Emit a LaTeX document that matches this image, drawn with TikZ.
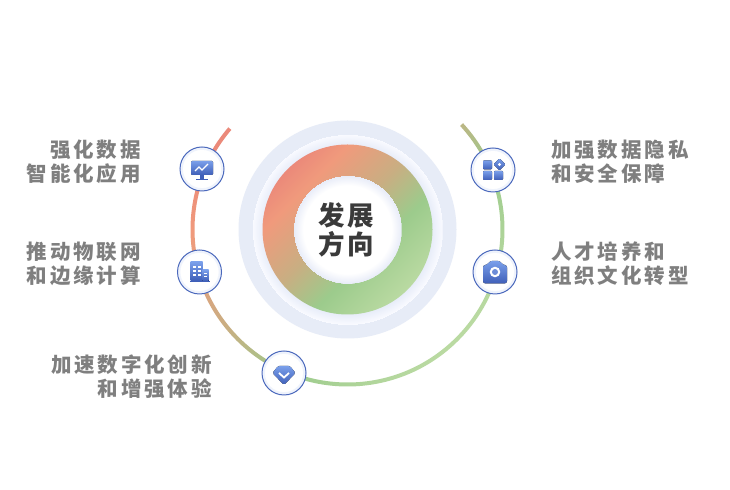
\documentclass[tikz,border=0pt]{standalone}
\usepackage{fontspec}
\newfontfamily\cjklabel[LetterSpace=14]{Noto Sans CJK SC}
\newfontfamily\cjkcenter[LetterSpace=9]{Noto Sans CJK SC}
\definecolor{gA}{HTML}{EB897A}
\definecolor{gB}{HTML}{F09A7C}
\definecolor{gC}{HTML}{C9AE82}
\definecolor{gD}{HTML}{9CCB8C}
\definecolor{gE}{HTML}{BADAA2}
\definecolor{haloOut}{HTML}{E7ECF7}
\definecolor{haloA}{HTML}{E8EDF9}
\definecolor{haloB}{HTML}{F9FAFF}
\definecolor{hubEdge}{HTML}{E8ECF8}
\definecolor{iconLine}{HTML}{4A68BC}
\definecolor{iconGlow}{HTML}{EFF3FC}
\definecolor{iconLight}{HTML}{7A9FEA}
\definecolor{iconDark}{HTML}{3F5FB8}
\definecolor{iconLens}{HTML}{6C8CD8}
\definecolor{labelGray}{HTML}{7F7F7F}
\definecolor{hubText}{HTML}{3A3A3A}
\pgfdeclarehorizontalshading{ringgrad}{190bp}{color(0bp)=(gA);color(5bp)=(gA);color(31bp)=(gB);color(81bp)=(gC);color(123bp)=(gD);color(175bp)=(gE);color(180bp)=(gE)}
\pgfdeclarehorizontalshading{arcgrad}{350bp}{color(0bp)=(gA);color(20bp)=(gA);color(67bp)=(gB);color(158bp)=(gC);color(235bp)=(gD);color(330bp)=(gE);color(350bp)=(gE)}
\pgfdeclareradialshading{halograd}{\pgfpoint{0bp}{0bp}}{color(0bp)=(haloA);color(85bp)=(haloA);color(95bp)=(haloB)}
\pgfdeclareradialshading{hubgrad}{\pgfpoint{0bp}{0bp}}{color(0bp)=(white);color(44bp)=(white);color(54bp)=(hubEdge)}
\tikzset{
  iconcircle/.style={circle,draw=iconLine,line width=1bp,minimum size=44bp,inner sep=0pt},
  iconfill/.style={top color=iconLight,bottom color=iconDark,draw=none},
  sidelabel/.style={font=\cjklabel\bfseries\fontsize{20.5bp}{24bp}\selectfont,text=labelGray,inner sep=0pt},
  hubtext/.style={font=\cjkcenter\bfseries\fontsize{26.5bp}{29.5bp}\selectfont,text=hubText,inner sep=0pt,align=center},
  glyphwhite/.style={fill=white,draw=none},
}
\begin{document}
\begin{tikzpicture}[x=1bp,y=1bp]
\useasboundingbox (0,0) rectangle (730,490);
\fill[white] (0,0) rectangle (730,490);
\coordinate (c) at (347.5,260.5);
% outer arc
\begin{scope}
\clip (c) ++(139.4:157bp) arc[start angle=139.4,end angle=402.6,radius=157bp]
  -- ++(42.6:-4bp) arc[start angle=402.6,end angle=139.4,radius=153bp] -- cycle;
\node[inner sep=0pt,rotate=-45] at (c) {\pgfuseshading{arcgrad}};
\end{scope}
% halo
\fill[haloOut] (c) circle[radius=109bp];
\begin{scope}
\clip (c) circle[radius=96bp];
\node[inner sep=0pt] at (c) {\pgfuseshading{halograd}};
\end{scope}
% ring
\begin{scope}
\clip (c) circle[radius=85bp];
\node[inner sep=0pt,rotate=-45] at (c) {\pgfuseshading{ringgrad}};
\end{scope}
\begin{scope}
\clip (c) circle[radius=54.5bp];
\node[inner sep=0pt] at (c) {\pgfuseshading{hubgrad}};
\end{scope}
\node[hubtext] (hub) at (346.5,260) {发展\\方向};
% icon circles
\foreach \nm/\px/\py in {i1/202/321,i2/199.5/218,i3/493/320,i4/495/218,i5/284/117}{
  \fill[white] (\px,\py) circle[radius=22bp];
  \draw[iconGlow,line width=2.4bp] (\px,\py) circle[radius=20.4bp];
  \node[iconcircle] (\nm) at (\px,\py) {};
}
% monitor
\begin{scope}[shift={(i1)}]
\fill[iconfill,rounded corners=1.2bp] (-11,8) rectangle (11,-6);
\fill[iconDark] (-2,-6) rectangle (2,-10);
\fill[iconDark] (-6,-9.6) rectangle (6,-11);
\draw[white,line width=1.1bp] (-7,-2) -- (-3,2) -- (0,-1) -- (6,5);
\end{scope}
% building
\begin{scope}[shift={(i2)}]
\fill[iconfill] (-9,10) rectangle (3,-9);
\fill[iconfill] (3,2) rectangle (9,-9);
\fill[iconDark] (-10,-9) rectangle (10,-10.5);
\foreach \wx in {-6.5,-2}{\foreach \wy in {4,0,-4}{\fill[glyphwhite] (\wx,\wy) rectangle ++(3,1.6);}}
\foreach \wy in {-2,-5.5}{\fill[glyphwhite] (4.6,\wy) rectangle ++(2.6,1.4);}
\end{scope}
% grid
\begin{scope}[shift={(i3)}]
\fill[iconfill,rounded corners=1bp] (-10,0.5) rectangle (-1,9.5);
\fill[iconfill,rounded corners=1bp] (-10,-10) rectangle (-1,-1);
\fill[iconfill,rounded corners=1bp] (1,-10) rectangle (10,-1);
\fill[iconfill,rounded corners=1bp] (6.5,11.5) -- (12.5,5.5) -- (6.5,-0.5) -- (0.5,5.5) -- cycle;
\fill[glyphwhite] (6.5,5.5) circle[radius=1.6bp];
\end{scope}
% camera
\begin{scope}[shift={(i4)}]
\fill[iconfill,rounded corners=2.5bp] (-12,7) -- (-7.5,7) -- (-5.5,11) -- (5.5,11) -- (7.5,7) -- (12,7) -- (12,-11.5) -- (-12,-11.5) -- cycle;
\fill[glyphwhite] (0,0) circle[radius=5.3bp];
\fill[iconLens] (0,0) circle[radius=3bp];
\end{scope}
% gem
\begin{scope}[shift={(i5)}]
\fill[iconfill,rounded corners=1.5bp] (-6,7) -- (6,7) -- (11.5,0) -- (0,-12) -- (-11.5,0) -- cycle;
\draw[white,line width=1.8bp] (-5,0) -- (0,-4.5) -- (5,0);
\end{scope}
% labels
\node[sidelabel,anchor=east,align=right] (l1) at (141,328.5) {强化数据\\智能化应用};
\node[sidelabel,anchor=east,align=right] (l2) at (141,226.5) {推动物联网\\和边缘计算};
\node[sidelabel,anchor=east,align=right] (l5) at (212,113.5) {加速数字化创新\\和增强体验};
\node[sidelabel,anchor=west,align=left] (l3) at (551,328.5) {加强数据隐私\\和安全保障};
\node[sidelabel,anchor=west,align=left] (l4) at (551,226.5) {人才培养和\\组织文化转型};
\end{tikzpicture}
\end{document}
